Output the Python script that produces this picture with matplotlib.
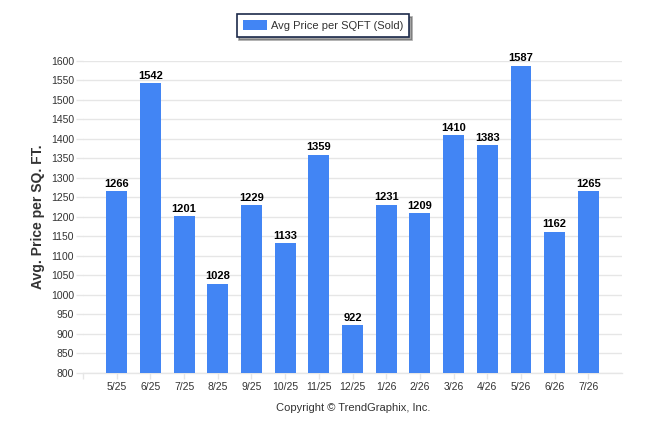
import matplotlib
matplotlib.use("Agg")
import matplotlib.pyplot as plt

# data
months = ["5/25", "6/25", "7/25", "8/25", "9/25", "10/25", "11/25", "12/25",
          "1/26", "2/26", "3/26", "4/26", "5/26", "6/26", "7/26"]
price_sqft = [1266, 1542, 1201, 1028, 1229, 1133, 1359, 922,
              1231, 1209, 1410, 1383, 1587, 1162, 1265]
y_ticks = list(range(800, 1601, 50))

BAR = "#4285f4"
GRID = "#e6e6e6"
TXT = "#333333"

plt.rcParams["font.family"] = ["Liberation Sans", "DejaVu Sans"]

fig = plt.figure(figsize=(6.46, 4.34), dpi=100)
ax = fig.add_axes([0.1285, 0.1412, 0.8344, 0.7188])

x = list(range(len(months)))
ax.bar(x, price_sqft, width=0.62, color=BAR, zorder=3, label="Avg Price per SQFT (Sold)")

# value labels on top of each bar
for xi, v in zip(x, price_sqft):
    ax.text(xi, v + 6, str(v), ha="center", va="bottom", fontsize=8,
            fontweight="bold", color="black", zorder=4)

ax.set_xlim(-1, 15)
ax.set_ylim(800, 1600)
ax.set_yticks(y_ticks)
ax.set_xticks([-1] + x)
ax.set_xticklabels([""] + months)

ax.grid(axis="y", color=GRID, lw=1, zorder=0)
for s in ["top", "right", "left"]:
    ax.spines[s].set_visible(False)
ax.spines["bottom"].set_color(GRID)
ax.spines["bottom"].set_linewidth(1)

ax.tick_params(axis="x", colors=GRID, length=4, width=1, labelcolor=TXT,
               labelsize=7.5, pad=3)
ax.tick_params(axis="y", colors=GRID, length=5, width=1, labelcolor=TXT,
               labelsize=7.5, pad=1.5)

ax.set_ylabel("Avg. Price per SQ. FT.", fontsize=10, fontweight="bold",
              color=TXT, labelpad=4)

leg = fig.legend(loc="center", bbox_to_anchor=(0.5, 0.941), fontsize=8,
                 frameon=True, fancybox=False, shadow=True, handlelength=2.2,
                 handleheight=1.0, borderpad=0.55, handletextpad=0.35,
                 borderaxespad=0)
leg.get_frame().set_edgecolor("#1c2a4a")
leg.get_frame().set_linewidth(1.2)
for t in leg.get_texts():
    t.set_color(TXT)

fig.text(0.5464, 0.059, "Copyright \u00a9 TrendGraphix, Inc.", ha="center",
         va="center", fontsize=8, color=TXT)

fig.savefig("out.png", dpi=100, facecolor="white")
